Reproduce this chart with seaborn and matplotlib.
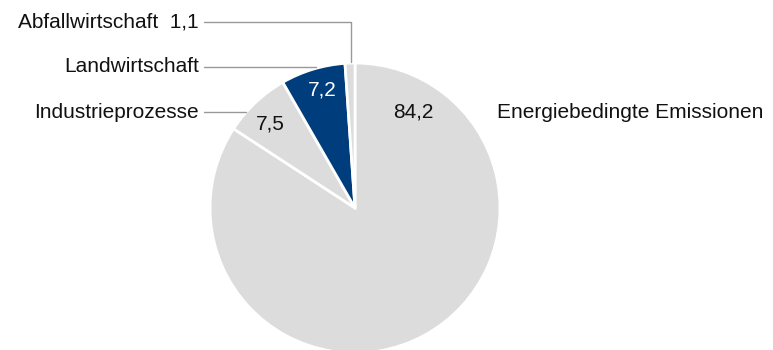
import matplotlib
matplotlib.use("Agg")
import matplotlib.pyplot as plt
import seaborn as sns

sns.set_theme(style="white")
plt.rcParams['font.family'] = ['Liberation Sans', 'DejaVu Sans']

categories = ["Energiebedingte Emissionen", "Industrieprozesse", "Landwirtschaft", "Abfallwirtschaft"]
values = [84.2, 7.5, 7.2, 1.1]
colors = ["#dcdcdc", "#dcdcdc", "#003d7c", "#dcdcdc"]

def fmt(v):
    return f"{v:.1f}".replace(".", ",")

W, H = 773, 350
fig = plt.figure(figsize=(W / 100, H / 100), dpi=100)
ax = fig.add_axes([0, 0, 1, 1])
ax.set_xlim(0, W)
ax.set_ylim(0, H)
ax.set_aspect("equal")
ax.axis("off")

cx, cy, r = 355, H - 208, 145
ax.pie(values, colors=colors, startangle=90, counterclock=False,
       center=(cx, cy), radius=r,
       wedgeprops=dict(edgecolor="white", linewidth=2))
ax.set_xlim(0, W)
ax.set_ylim(0, H)

fs = 15
# inside value labels
ax.text(413, H - 112, fmt(values[0]), ha="center", va="center", fontsize=fs, color="#111111")
ax.text(270, H - 124, fmt(values[1]), ha="center", va="center", fontsize=fs, color="#111111")
ax.text(322, H - 90, fmt(values[2]), ha="center", va="center", fontsize=fs, color="white")

# outside labels
ax.text(497, H - 112, categories[0], ha="left", va="center", fontsize=fs, color="#111111")
ax.text(199, H - 112, categories[1], ha="right", va="center", fontsize=fs, color="#111111")
ax.text(199, H - 67, categories[2], ha="right", va="center", fontsize=fs, color="#111111")
ax.text(199, H - 22, f"{categories[3]}  {fmt(values[3])}", ha="right", va="center", fontsize=fs, color="#111111")

lc = "#999999"
ax.plot([204, 246], [H - 112, H - 112], color=lc, lw=1)
ax.plot([204, 316], [H - 67, H - 67], color=lc, lw=1)
ax.plot([204, 351, 351], [H - 22, H - 22, H - 62], color=lc, lw=1)

fig.savefig("out.png", dpi=100, facecolor="white")
